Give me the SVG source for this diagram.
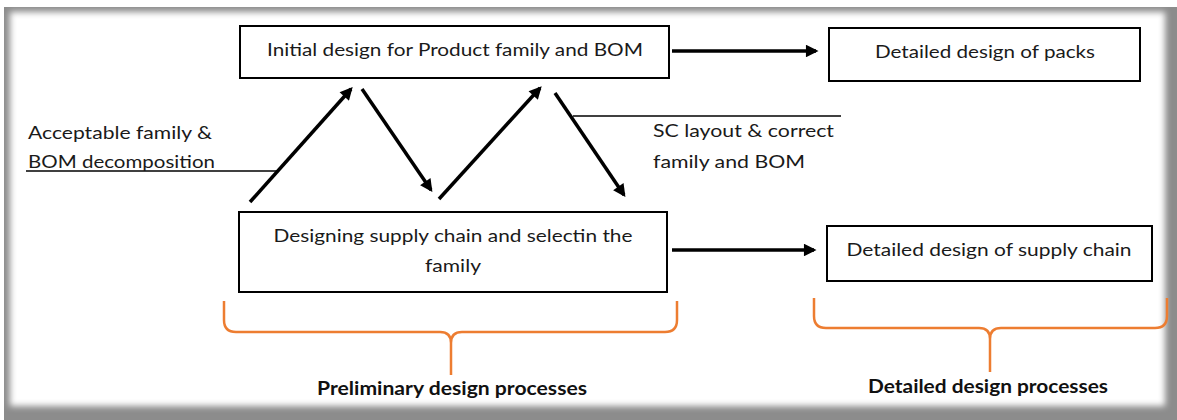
<svg xmlns="http://www.w3.org/2000/svg" width="1177" height="420" viewBox="0 0 1177 420">
<style>
.box{fill:#fff;stroke:#000;stroke-width:2}
.t{font-family:Lato,"Open Sans","Liberation Sans",sans-serif;font-size:18px;fill:#1a1a1a}
.b{font-family:Lato,"Open Sans","Liberation Sans",sans-serif;font-size:18px;font-weight:bold;fill:#111}
.arr{stroke:#000;stroke-width:3.5;fill:none;marker-end:url(#ah)}
.ul{stroke:#000;stroke-width:1.5}
.brace{fill:none;stroke:#ED7D31;stroke-width:2.5;stroke-linejoin:round}
</style>
<defs>
<marker id="ah" viewBox="0 0 10 10" refX="8" refY="5" markerWidth="4" markerHeight="3.6" orient="auto" markerUnits="strokeWidth">
<path d="M0,0 L10,5 L0,10 z" fill="#000"/>
</marker>
<filter id="soft" x="-5%" y="-5%" width="110%" height="110%">
<feGaussianBlur stdDeviation="3"/>
</filter>
</defs>
<rect width="1177" height="420" fill="#fff"/>
<rect x="4" y="7" width="1173" height="413" fill="#8c8c8c"/>
<rect x="10" y="12" width="1155" height="394" fill="#fff" filter="url(#soft)"/>

<g id="connectors">
<line class="ul" x1="26" y1="171" x2="277" y2="171"/>
<line class="ul" x1="573" y1="116" x2="841" y2="116"/>
<line class="arr" x1="250" y1="202" x2="351" y2="89"/>
<line class="arr" x1="362" y1="89" x2="431" y2="190"/>
<line class="arr" x1="439" y1="199" x2="540" y2="88"/>
<line class="arr" x1="555" y1="93" x2="624" y2="195"/>
<line class="arr" x1="672" y1="51" x2="816" y2="51"/>
<line class="arr" x1="672" y1="250" x2="814" y2="250"/>
</g>

<g id="n-initial">
<rect class="box" x="240" y="26" width="429" height="52"/>
<text class="t" x="455" y="56" text-anchor="middle" textLength="376" lengthAdjust="spacingAndGlyphs">Initial design for Product family and BOM</text>
</g>
<g id="n-packs">
<rect class="box" x="829" y="28" width="311" height="53"/>
<text class="t" x="985" y="58" text-anchor="middle" textLength="220" lengthAdjust="spacingAndGlyphs">Detailed design of packs</text>
</g>
<g id="n-supply">
<rect class="box" x="239" y="212" width="428" height="80"/>
<text class="t" x="453" y="242" text-anchor="middle" textLength="359" lengthAdjust="spacingAndGlyphs">Designing supply chain and selectin the</text>
<text class="t" x="453" y="272" text-anchor="middle" textLength="56" lengthAdjust="spacingAndGlyphs">family</text>
</g>
<g id="n-detsupply">
<rect class="box" x="827" y="226" width="325" height="55"/>
<text class="t" x="989" y="256" text-anchor="middle" textLength="285" lengthAdjust="spacingAndGlyphs">Detailed design of supply chain</text>
</g>

<g id="l-acceptable">
<text class="t" x="28" y="139" textLength="184" lengthAdjust="spacingAndGlyphs">Acceptable family &amp;</text>
<text class="t" x="28" y="168" textLength="187" lengthAdjust="spacingAndGlyphs">BOM decomposition</text>
</g>
<g id="l-sc">
<text class="t" x="653" y="137" textLength="181" lengthAdjust="spacingAndGlyphs">SC layout &amp; correct</text>
<text class="t" x="653" y="168" textLength="152" lengthAdjust="spacingAndGlyphs">family and BOM</text>
</g>

<g id="brace-prelim">
<path class="brace" d="M224,301 L224,320 Q224,332 236,332 L440,332 Q451,332 451,343 L451,375 M451,343 Q451,332 462,332 L665,332 Q677,332 677,320 L677,301"/>
<text class="b" x="452" y="395" text-anchor="middle" textLength="270" lengthAdjust="spacingAndGlyphs">Preliminary design processes</text>
</g>
<g id="brace-detailed">
<path class="brace" d="M814,298 L814,316 Q814,328 826,328 L979,328 Q990,328 990,339 L990,372 M990,339 Q990,328 1001,328 L1155,328 Q1167,328 1167,316 L1167,298"/>
<text class="b" x="988" y="393" text-anchor="middle" textLength="240" lengthAdjust="spacingAndGlyphs">Detailed design processes</text>
</g>
</svg>
